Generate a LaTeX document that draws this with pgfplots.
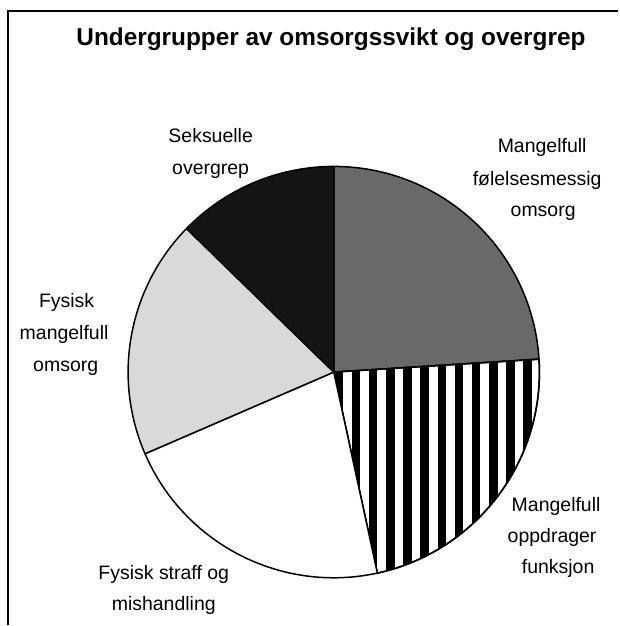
\documentclass[border=0pt]{standalone}
\usepackage{fontspec}
\setmainfont{Liberation Sans}
\usepackage{pgfplots}
\usepackage{pgfplotstable}
\pgfplotsset{compat=1.18}
\usetikzlibrary{patterns.meta}

\definecolor{feel}{gray}{0.41}
\definecolor{phys}{gray}{0.85}
\definecolor{sexual}{gray}{0.08}

% share of each subgroup, percent, clockwise from the top
\pgfplotstableread[col sep=comma]{
share,name
24.0,feel
22.6,upbringing
21.9,punishment
18.8,physical
12.7,sexual
}\piedata

\newcommand\getshare[2]{\pgfplotstablegetelem{#1}{share}\of\piedata\let#2\pgfplotsretval}

\begin{document}
\begin{tikzpicture}
\getshare{0}\sA \getshare{1}\sB \getshare{2}\sC \getshare{3}\sD \getshare{4}\sE
\pgfmathsetmacro\aA{90-3.6*\sA}
\pgfmathsetmacro\aB{\aA-3.6*\sB}
\pgfmathsetmacro\aC{\aB-3.6*\sC}
\pgfmathsetmacro\aD{\aC-3.6*\sD}
\pgfmathsetmacro\aE{\aD-3.6*\sE}
\def\r{206pt}
\def\ctr{(axis cs:334.3,253.3)}
\begin{axis}[
    x=1pt, y=1pt,
    xmin=0, xmax=618, ymin=0, ymax=626,
    hide axis, clip=false,
    ]
    \path (axis cs:0,0) rectangle (axis cs:618,626);
    % frame (left and top only)
    \draw[line width=2pt] (axis cs:8.3,0) -- (axis cs:8.3,614.7) -- (axis cs:619,614.7);

    \node[anchor=base, font=\fontsize{24.4}{28}\selectfont\bfseries]
        at (axis cs:331.5,580) {Undergrupper av omsorgssvikt og overgrep};

    % slices
    \filldraw[fill=feel, line width=1.5pt, line join=round] \ctr -- ++(90:\r)
        arc[start angle=90, end angle=\aA, radius=\r] -- cycle;
    \filldraw[fill=white, line width=1.5pt, line join=round,
        postaction={pattern={Lines[angle=90,distance=17.2pt,line width=8.6pt,xshift=12.5pt]}, pattern color=black}]
        \ctr -- ++(\aA:\r) arc[start angle=\aA, end angle=\aB, radius=\r] -- cycle;
    \draw[line width=1.5pt, line join=round] \ctr -- ++(\aA:\r)
        arc[start angle=\aA, end angle=\aB, radius=\r] -- cycle;
    \filldraw[fill=white, line width=1.5pt, line join=round] \ctr -- ++(\aB:\r)
        arc[start angle=\aB, end angle=\aC, radius=\r] -- cycle;
    \filldraw[fill=phys, line width=1.5pt, line join=round] \ctr -- ++(\aC:\r)
        arc[start angle=\aC, end angle=\aD, radius=\r] -- cycle;
    \filldraw[fill=sexual, line width=1.5pt, line join=round] \ctr -- ++(\aD:\r)
        arc[start angle=\aD, end angle=\aE, radius=\r] -- cycle;

    % labels
    \begin{scope}[every node/.style={anchor=base, font=\fontsize{19.5}{23}\selectfont}]
    \node at (axis cs:543,473) {Mangelfull};
    \node at (axis cs:538,440) {følelsesmessig};
    \node at (axis cs:544,409) {omsorg};
    \node at (axis cs:557,114) {Mangelfull};
    \node at (axis cs:553,83) {oppdrager};
    \node at (axis cs:559,52) {funksjon};
    \node at (axis cs:66.7,318) {Fysisk};
    \node at (axis cs:64.2,286) {mangelfull};
    \node at (axis cs:65.8,254) {omsorg};
    \node at (axis cs:211,483) {Seksuelle};
    \node at (axis cs:211,451) {overgrep};
    \node at (axis cs:164,46) {Fysisk straff og};
    \node at (axis cs:164,15) {mishandling};
    \end{scope}
\end{axis}
\end{tikzpicture}
\end{document}
